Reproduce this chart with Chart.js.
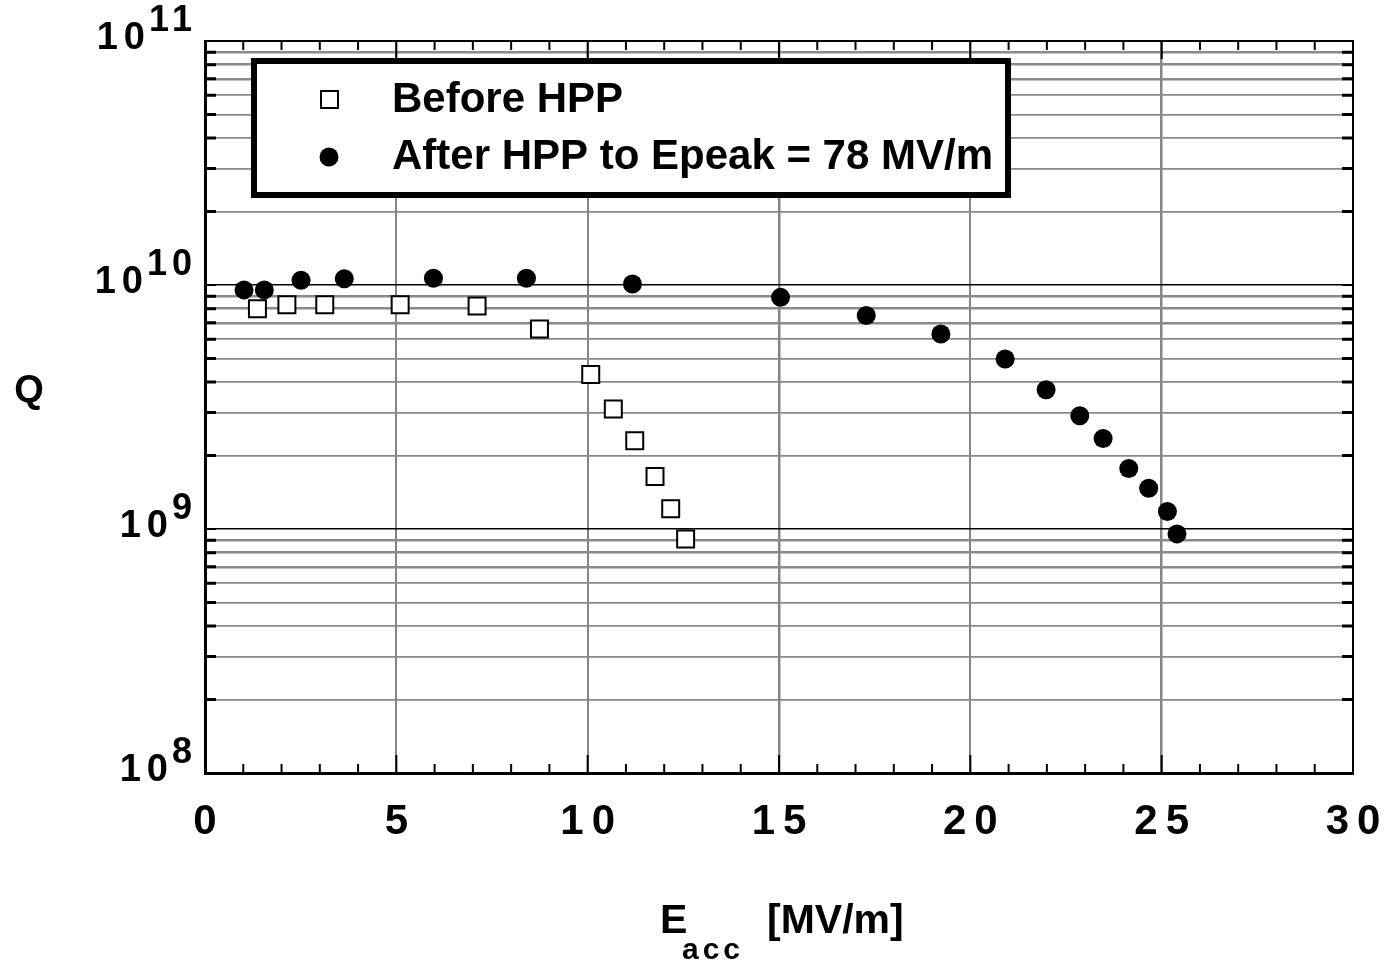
<!DOCTYPE html>
<html>
<head>
<meta charset="utf-8">
<script src="https://cdn.jsdelivr.net/npm/chart.js@4.4.1/dist/chart.umd.min.js"></script>
<style>
  html, body { margin: 0; padding: 0; background: #fff; }
  #wrap { width: 1385px; height: 965px; }
</style>
</head>
<body>
<div id="wrap"><canvas id="qChart"></canvas></div>
<script>
// Dados (E_acc em MV/m, Q adimensional)
const eaccBefore = [1.37, 2.14, 3.13, 5.10, 7.11, 8.74, 10.08, 10.67, 11.23, 11.76, 12.17, 12.56];
const qBefore = [8.0e9, 8.3e9, 8.3e9, 8.3e9, 8.2e9, 6.6e9, 4.3e9, 3.1e9, 2.3e9, 1.64e9, 1.21e9, 9.1e8];

const eaccAfter = [1.02, 1.55, 2.51, 3.64, 5.97, 8.40, 11.17, 15.04, 17.28, 19.23, 20.91, 21.98, 22.86, 23.47, 24.14, 24.66, 25.15, 25.40];
const qAfter = [9.55e9, 9.55e9, 1.045e10, 1.06e10, 1.065e10, 1.065e10, 1.01e10, 8.9e9, 7.5e9, 6.3e9, 4.97e9, 3.72e9, 2.91e9, 2.35e9, 1.77e9, 1.47e9, 1.18e9, 9.55e8];

const xTickValues = [0, 5, 10, 15, 20, 25, 30];
const yDecades = [8, 9, 10, 11];
const legendLabels = ['Before HPP', 'After HPP to Epeak = 78 MV/m'];

const FONT = '"Liberation Sans", Arial, Helvetica, sans-serif';

// Ticks do eixo log: 1..9 x 10^n
const logTicks = [];
for (let d = yDecades[0]; d < yDecades[yDecades.length - 1]; d++) {
    for (let m = 1; m <= 9; m++) logTicks.push(m * Math.pow(10, d));
}
logTicks.push(Math.pow(10, yDecades[yDecades.length - 1]));

const mantissa = (v) => Math.round(v / Math.pow(10, Math.floor(Math.log10(v) + 1e-9)));

// --- Plugin: moldura, ticks internos, rótulos e legenda ---
const decorPlugin = {
    id: 'decor',
    afterDraw(chart) {
        const ctx = chart.ctx;
        const a = chart.chartArea;
        const xs = chart.scales.x;
        const ys = chart.scales.y;
        ctx.save();

        // moldura superior e direita
        ctx.strokeStyle = '#000';
        ctx.lineWidth = 2;
        ctx.beginPath();
        ctx.moveTo(a.left, a.top); ctx.lineTo(a.right, a.top); ctx.lineTo(a.right, a.bottom);
        ctx.stroke();

        // ticks internos do eixo x (baixo e cima)
        for (let v = 0; v <= 30; v++) {
            const px = xs.getPixelForValue(v);
            const len = v % 5 === 0 ? 18 : 9;
            ctx.lineWidth = 2;
            ctx.beginPath();
            ctx.moveTo(px, a.bottom); ctx.lineTo(px, a.bottom - len);
            ctx.moveTo(px, a.top); ctx.lineTo(px, a.top + len);
            ctx.stroke();
        }

        // ticks internos do eixo y (esquerda e direita)
        logTicks.forEach(v => {
            const py = ys.getPixelForValue(v);
            ctx.lineWidth = mantissa(v) === 1 ? 2 : 3;
            ctx.beginPath();
            ctx.moveTo(a.left, py); ctx.lineTo(a.left + 11, py);
            ctx.moveTo(a.right, py); ctx.lineTo(a.right - 11, py);
            ctx.stroke();
        });

        ctx.fillStyle = '#000';
        ctx.textBaseline = 'middle';

        // rótulos do eixo x
        ctx.font = 'bold 42px ' + FONT;
        ctx.letterSpacing = '8px';
        ctx.textAlign = 'left';
        xTickValues.forEach(v => {
            const txt = String(v);
            const w = ctx.measureText(txt).width - 8;
            ctx.fillText(txt, xs.getPixelForValue(v) - w / 2, 822);
        });

        // rótulos do eixo y: 10 com expoente
        yDecades.forEach(d => {
            const py = ys.getPixelForValue(Math.pow(10, d)) - 2;
            ctx.font = 'bold 38px ' + FONT;
            ctx.letterSpacing = '6px';
            const wb = ctx.measureText('10').width - 6;
            ctx.font = 'bold 36px ' + FONT;
            ctx.letterSpacing = '5px';
            const sup = String(d);
            const ws = ctx.measureText(sup).width - 5;
            const right = 192;
            const x0 = right - ws - 4 - wb;
            ctx.font = 'bold 38px ' + FONT;
            ctx.letterSpacing = '6px';
            ctx.fillText('10', x0, py);
            ctx.font = 'bold 36px ' + FONT;
            ctx.letterSpacing = '5px';
            ctx.fillText(sup, x0 + wb + 4, py - 18);
        });

        // títulos dos eixos
        ctx.letterSpacing = '0px';
        ctx.font = 'bold 38px ' + FONT;
        ctx.textAlign = 'center';
        ctx.fillText('Q', 29, 392);

        ctx.textAlign = 'left';
        ctx.textBaseline = 'alphabetic';
        ctx.font = 'bold 41px ' + FONT;
        ctx.fillText('E', 660, 933);
        ctx.fillText('[MV/m]', 767, 933);
        ctx.font = 'bold 30px ' + FONT;
        ctx.letterSpacing = '4px';
        ctx.fillText('acc', 682, 959);
        ctx.letterSpacing = '0px';

        // legenda
        ctx.fillStyle = '#fff';
        ctx.fillRect(254, 61, 754, 134);
        ctx.strokeStyle = '#000';
        ctx.lineWidth = 6;
        ctx.strokeRect(254, 61, 754, 134);

        ctx.lineWidth = 2;
        ctx.strokeRect(321, 91, 17, 17);
        ctx.fillStyle = '#000';
        ctx.beginPath();
        ctx.arc(329, 157, 9.5, 0, Math.PI * 2);
        ctx.fill();

        ctx.font = 'bold 42px ' + FONT;
        ctx.textBaseline = 'middle';
        ctx.fillText(legendLabels[0], 392, 100);
        ctx.fillText(legendLabels[1], 392, 157);

        ctx.restore();
    }
};

const ctxQ = document.getElementById('qChart').getContext('2d');

new Chart(ctxQ, {
    type: 'scatter',
    data: {
        datasets: [{
            label: legendLabels[0],
            data: eaccBefore.map((x, i) => ({ x, y: qBefore[i] })),
            pointStyle: 'rect',
            pointRadius: 12,
            borderColor: '#000',
            backgroundColor: '#fff',
            borderWidth: 2
        }, {
            label: legendLabels[1],
            data: eaccAfter.map((x, i) => ({ x, y: qAfter[i] })),
            pointStyle: 'circle',
            pointRadius: 9.5,
            borderWidth: 0,
            backgroundColor: '#000'
        }]
    },
    options: {
        responsive: true, maintainAspectRatio: false, animation: false,
        layout: { padding: { left: 205, right: 32, top: 41, bottom: 192 } },
        scales: {
            x: {
                type: 'linear', min: 0, max: 30,
                ticks: { display: false, stepSize: 1 },
                grid: {
                    drawTicks: false,
                    color: (c) => (c.tick && c.tick.value % 5 === 0 && c.tick.value > 0 && c.tick.value < 30) ? '#858585' : 'rgba(0,0,0,0)',
                    lineWidth: (c) => (c.tick && (c.tick.value === 15 || c.tick.value === 25)) ? 2.5 : 2
                },
                border: { display: true, color: '#000', width: 3 }
            },
            y: {
                type: 'logarithmic', min: 1e8, max: 1e11,
                afterBuildTicks: (scale) => { scale.ticks = logTicks.map(v => ({ value: v })); },
                ticks: { display: false },
                grid: {
                    drawTicks: false,
                    color: (c) => (c.tick && mantissa(c.tick.value) === 1) ? '#000' : '#8a8a8a',
                    lineWidth: (c) => {
                        if (!c.tick) return 1;
                        const m = mantissa(c.tick.value);
                        if (m === 1) return 1.5;
                        return m >= 7 ? 2.5 : 1.8;
                    }
                },
                border: { display: true, color: '#000', width: 3 }
            }
        },
        plugins: { legend: { display: false }, tooltip: { enabled: false } }
    },
    plugins: [decorPlugin]
});
</script>
</body>
</html>
